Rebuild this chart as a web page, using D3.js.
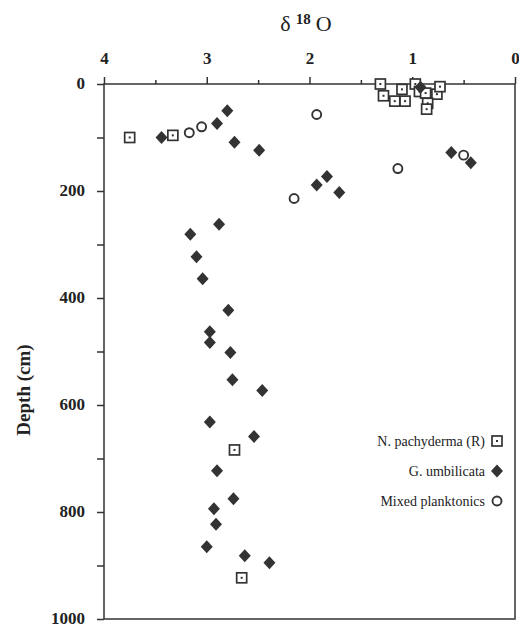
<!DOCTYPE html>
<meta charset="utf-8">
<style>
body{margin:0;background:#fff;}
svg text{font-family:"Liberation Serif","Times New Roman",serif;fill:#222;}
.axis text{font-weight:bold;font-size:17px;}
.axis path,.axis line{stroke:#333;stroke-width:1.5;}
</style>
<svg id="chart" width="519" height="627"></svg>
<script src="https://d3js.org/d3.v7.min.js"></script>
<script>
// delta 18O vs depth, three planktonic records

// N. pachyderma (R) - open squares
const pachyX = [1.31,1.28,1.17,1.07,1.10,0.97,0.93,0.87,0.76,0.73,0.85,0.86,3.75,3.33,2.73,2.66]
const pachyD = [0,22,32,32,10,0,14,17,19,5,36,47,100,96,684,923]

// G. umbilicata - filled diamonds
const umbX = [0.92,3.44,2.90,2.80,2.73,2.49,0.62,0.43,1.83,1.93,1.71,2.88,3.16,3.10,3.04,2.79,2.97,2.97,2.77,2.75,2.46,2.97,2.54,2.90,2.74,2.93,2.91,3.00,2.63,2.39]
const umbD = [6,100,74,50,109,124,128,147,173,189,203,262,281,323,364,423,463,483,502,553,573,632,659,723,775,794,823,865,882,895]

// Mixed planktonics - open circles
const mixX = [3.17,3.05,1.93,2.15,1.14,0.50]
const mixD = [91,80,57,214,158,133]

const xTicks = [4,3,2,1,0]
const xMinor = [3.5,2.5,1.5,0.5]
const yTicks = [0,200,400,600,800,1000]
const yMinor = [100,300,500,700,900]

const legendNames = ['N. pachyderma (R)','G. umbilicata','Mixed planktonics']

const svg = d3.select('#chart')
const mLeft = 104, mRight = 515, mTop = 84, mBottom = 619
const ink = '#333'

const x = d3.scaleLinear().domain([4,0]).range([mLeft,mRight])
const y = d3.scaleLinear().domain([0,1000]).range([mTop,mBottom])

// frame
svg.append('rect')
  .attr('x', mLeft).attr('y', mTop)
  .attr('width', mRight-mLeft).attr('height', mBottom-mTop)
  .attr('fill','none').attr('stroke',ink).attr('stroke-width',1.5)

// top axis
svg.append('g').attr('class','axis')
  .attr('transform',`translate(0,${mTop})`)
  .call(d3.axisTop(x).tickValues(xMinor).tickSize(4).tickFormat(''))
  .call(g => g.select('.domain').remove())
svg.append('g').attr('class','axis')
  .attr('transform',`translate(0,${mTop})`)
  .call(d3.axisTop(x).tickValues(xTicks).tickSize(7).tickPadding(13).tickFormat(d3.format('d')))
  .call(g => g.select('.domain').remove())

// left axis
svg.append('g').attr('class','axis')
  .attr('transform',`translate(${mLeft},0)`)
  .call(d3.axisLeft(y).tickValues(yMinor).tickSize(7).tickFormat(''))
  .call(g => g.select('.domain').remove())
svg.append('g').attr('class','axis')
  .attr('transform',`translate(${mLeft},0)`)
  .call(d3.axisLeft(y).tickValues(yTicks).tickSize(7).tickPadding(12).tickFormat(d3.format('d')))
  .call(g => g.select('.domain').remove())
  .call(g => g.selectAll('text').attr('dy','0.26em'))

// titles
const title = svg.append('text')
  .attr('x', 306).attr('y', 31)
  .attr('text-anchor','middle')
  .style('font-size','22px')
title.append('tspan').text('δ')
title.append('tspan').attr('dx',5).attr('dy',-7).style('font-size','15px').style('font-weight','bold').text('18')
title.append('tspan').attr('dx',5).attr('dy',7).text('O')

svg.append('text')
  .attr('transform','translate(30,390) rotate(-90)')
  .attr('text-anchor','middle')
  .style('font-size','19px').style('font-weight','bold')
  .text('Depth (cm)')

// symbol painters
function square(sel){
  sel.append('rect').attr('x',-5).attr('y',-5).attr('width',10).attr('height',10)
    .attr('fill','#fff').attr('stroke',ink).attr('stroke-width',1.7)
  sel.append('rect').attr('x',-1).attr('y',-1).attr('width',2).attr('height',2).attr('fill',ink)
}
function diamond(sel){
  sel.append('path').attr('d','M0,-6.5L6,0L0,6.5L-6,0Z').attr('fill',ink)
}
function circle(sel){
  sel.append('circle').attr('r',4.5).attr('fill','#fff').attr('stroke',ink).attr('stroke-width',1.9)
}

const plot = svg.append('g')

plot.selectAll('g.mix').data(d3.zip(mixX,mixD)).join('g')
  .attr('class','mix')
  .attr('transform', d => `translate(${x(d[0])},${y(d[1])})`)
  .call(circle)

plot.selectAll('g.pachy').data(d3.zip(pachyX,pachyD)).join('g')
  .attr('class','pachy')
  .attr('transform', d => `translate(${x(d[0])},${y(d[1])})`)
  .call(square)

plot.selectAll('g.umb').data(d3.zip(umbX,umbD)).join('g')
  .attr('class','umb')
  .attr('transform', d => `translate(${x(d[0])},${y(d[1])})`)
  .call(diamond)

// legend
const painters = [square, diamond, circle]
const legend = svg.append('g')
legendNames.forEach((name,i) => {
  const row = legend.append('g').attr('transform',`translate(0,${441 + i*30})`)
  row.append('text').attr('x',485).attr('y',5).attr('text-anchor','end')
    .style('font-size','14px').text(name)
  row.append('g').attr('transform','translate(497,0)').call(painters[i])
})
</script>
